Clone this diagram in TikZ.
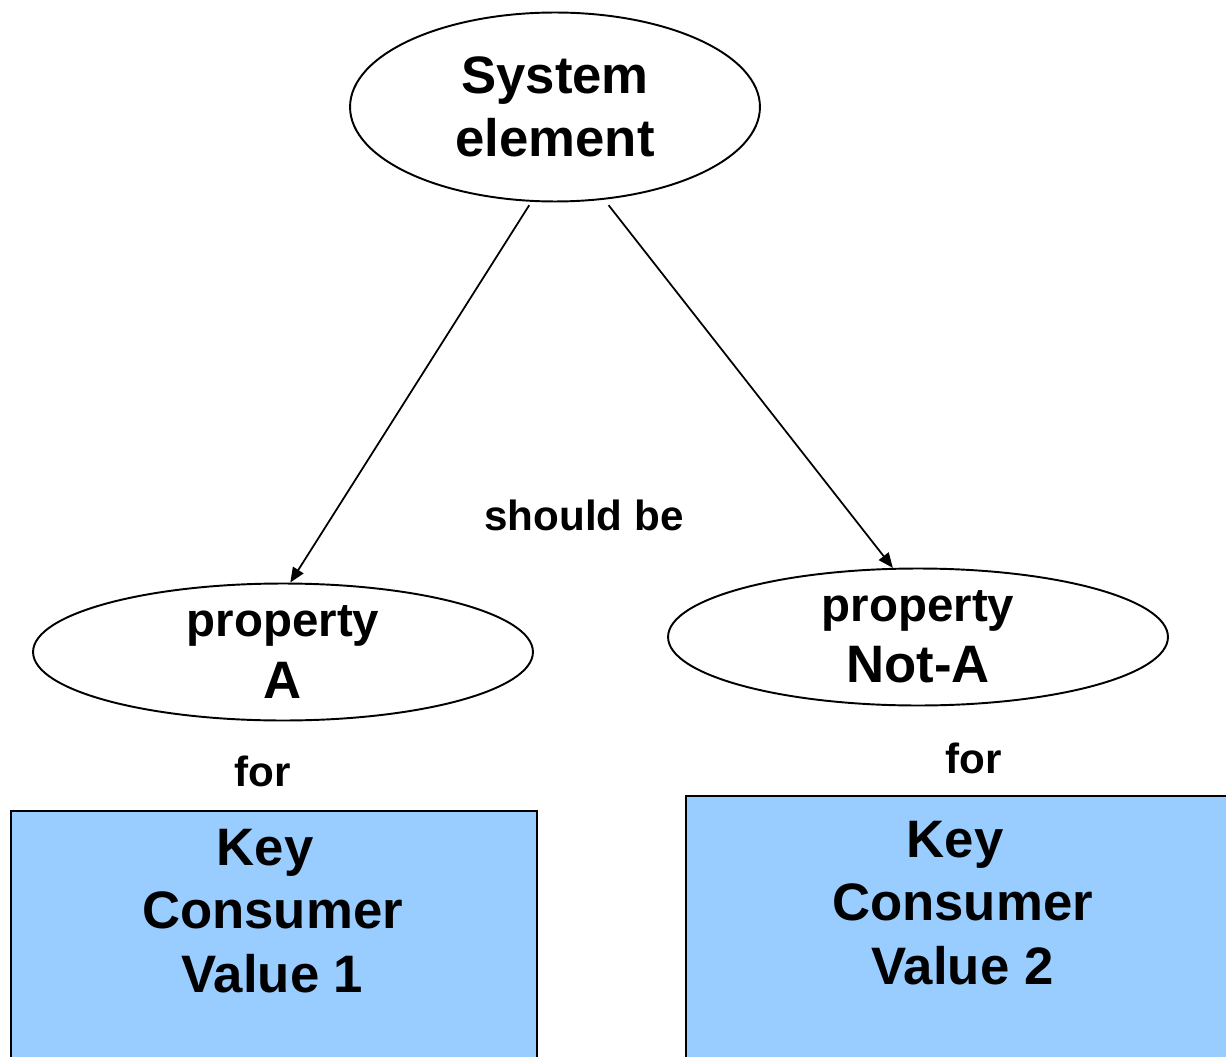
\documentclass[tikz,border=0pt]{standalone}
\usepackage{fontspec}
\setmainfont{Liberation Sans}
\usetikzlibrary{arrows.meta,shapes.geometric}
\definecolor{boxblue}{HTML}{99CCFF}
\begin{document}
\begin{tikzpicture}[x=0.02cm,y=-0.02cm,
  ell/.style={draw, ellipse, line width=1.1pt, inner sep=0pt, align=center},
  bigfont/.style={font=\bfseries\fontsize{30}{36}\selectfont},
  propfont/.style={font=\bfseries\fontsize{27}{35}\selectfont},
  lbl/.style={inner sep=0pt, font=\bfseries\fontsize{24}{29}\selectfont},
  arr/.style={line width=1pt, -{Triangle[length=8.5pt,width=7pt]}},
  kbox/.style={draw, line width=1.1pt, fill=boxblue, inner sep=0pt},
  ktext/.style={inner sep=0pt, align=center, bigfont}]
\useasboundingbox (0,0) rectangle (1226,1057);
\clip (0,0) rectangle (1226,1057);
% boxes
\node[kbox, minimum width=10.52cm, minimum height=6cm, anchor=north west] (kcv1) at (10,810) {};
\node[kbox, minimum width=11.08cm, minimum height=6cm, anchor=north west] (kcv2) at (685,795) {};
\node[ktext, anchor=north] (kt1) at (272.5,829) {Key\kern8.3pt\\Consumer\\Value 1};
\node[ktext, anchor=north] (kt2) at (962.5,821) {Key\kern8.3pt\\Consumer\\Value 2};
% ellipses
\node[ell, bigfont, minimum width=8.2cm, minimum height=3.78cm] (sys) at (555,107) {System\\element};
\node[ell, propfont, minimum width=10cm, minimum height=2.74cm] (pa) at (283,652) {property\\{\fontsize{30}{35}\selectfont A}};
\node[ell, propfont, minimum width=10cm, minimum height=2.74cm] (pn) at (918,637) {property\\{\fontsize{30}{35}\selectfont Not-A}};
% arrows
\draw[arr, shorten <=0.08cm] (sys.256) -- (pa.84);
\draw[arr, shorten <=0.14cm] (sys.298) -- (pn.110);
% labels
\node[lbl, anchor=base] (sb) at (584,530) {should be};
\node[lbl, anchor=base] (for1) at (263,786) {for};
\node[lbl, anchor=base] (for2) at (974,773) {for};
\end{tikzpicture}
\end{document}
